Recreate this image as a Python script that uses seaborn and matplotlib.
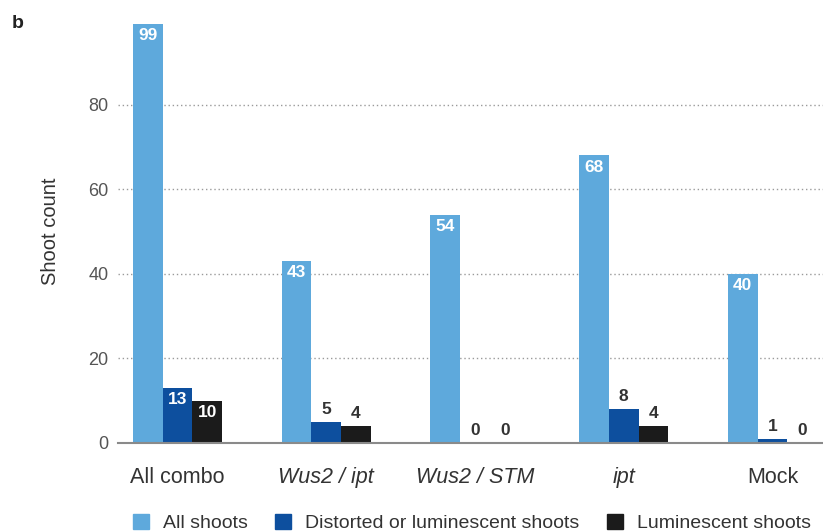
import matplotlib
matplotlib.use("Agg")
import matplotlib.pyplot as plt
import pandas as pd
import seaborn as sns

categories = ["All combo", "Wus2 / ipt", "Wus2 / STM", "ipt", "Mock"]
italic_cats = [False, True, True, True, False]
series = ["All shoots", "Distorted or luminescent shoots", "Luminescent shoots"]
all_shoots = [99, 43, 54, 68, 40]
distorted = [13, 5, 0, 8, 1]
luminescent = [10, 4, 0, 4, 0]
colors = ["#5ea9dc", "#0d4f9e", "#1b1b1b"]


def main():
    sns.set_theme(style="white")
    plt.rcParams['font.family'] = ['Liberation Sans', 'DejaVu Sans']

    rows = []
    for vals, name in zip([all_shoots, distorted, luminescent], series):
        for cat, v in zip(categories, vals):
            rows.append({"Group": cat, "Series": name, "Count": v})
    df = pd.DataFrame(rows)

    fig = plt.figure(figsize=(8.23, 5.32), dpi=100)
    ax = fig.add_axes([0.1434, 0.1673, 0.8566, 0.7951])

    sns.barplot(data=df, x="Group", y="Count", hue="Series", order=categories,
                hue_order=series, palette=colors, width=0.6, saturation=1,
                linewidth=0, ax=ax, legend=False)

    ax.set_ylim(0, 100)
    ax.set_xlim(-0.4, 4.34)
    ax.set_yticks([0, 20, 40, 60, 80])
    ax.yaxis.grid(True, linestyle=(0, (1, 2)), color="#9a9a9a", linewidth=1)
    ax.set_axisbelow(True)
    for s in ["top", "right", "left"]:
        ax.spines[s].set_visible(False)
    ax.spines["bottom"].set_color("#8a8a8a")
    ax.spines["bottom"].set_linewidth(1.5)

    ax.tick_params(axis="y", length=0, pad=7, labelsize=13, labelcolor="#555555")
    ax.tick_params(axis="x", length=0, pad=17, labelsize=15.5, labelcolor="#333333")
    for lab, it in zip(ax.get_xticklabels(), italic_cats):
        if it:
            lab.set_style("italic")
    ax.set_xlabel("")
    ax.set_ylabel("Shoot count", fontsize=14.5, color="#333333", labelpad=20)

    # value labels: inside the bar top if tall, otherwise above
    for cont in ax.containers:
        for patch in cont.patches:
            h = patch.get_height()
            xc = patch.get_x() + patch.get_width() / 2
            if h >= 10:
                ax.text(xc, h - 1.0, f"{int(h)}", ha="center", va="top",
                        color="white", fontsize=12.5, fontweight="bold")
            else:
                ax.text(xc, h + 1.2, f"{int(h)}", ha="center", va="bottom",
                        color="#333333", fontsize=12.5, fontweight="bold")

    handles = [plt.Rectangle((0, 0), 1, 1, color=c) for c in colors]
    fig.legend(handles, series, loc="lower left", bbox_to_anchor=(0.14, -0.033),
               ncol=3, frameon=False, fontsize=14, handlelength=0.85,
               handleheight=0.85, handletextpad=0.7, columnspacing=1.4,
               labelcolor="#333333")

    fig.text(0.014, 0.948, "b", fontsize=14, fontweight="bold", color="#222222")

    fig.savefig("out.png", dpi=100)


if __name__ == "__main__":
    main()
